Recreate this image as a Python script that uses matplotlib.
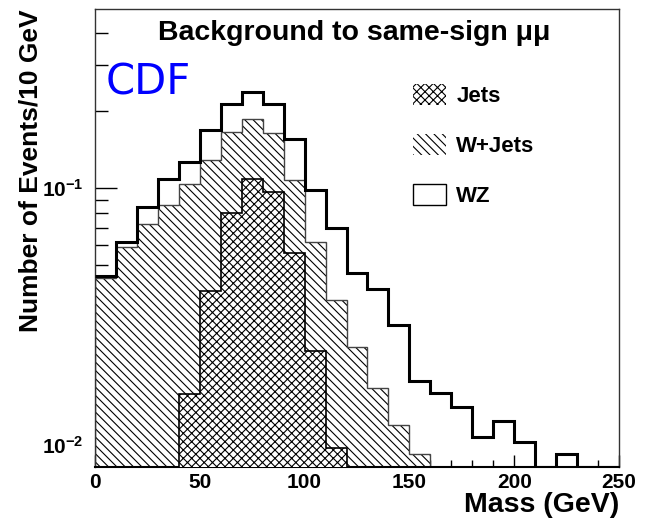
import numpy as np
import matplotlib.pyplot as plt
from matplotlib.patches import Patch
from matplotlib.ticker import FixedLocator, FuncFormatter, LogLocator, NullFormatter

plt.rcParams['font.family'] = ['Liberation Sans', 'DejaVu Sans']
plt.rcParams['mathtext.fontset'] = 'custom'
plt.rcParams['mathtext.rm'] = 'Liberation Sans:bold'
plt.rcParams['mathtext.bf'] = 'Liberation Sans:bold'
plt.rcParams['hatch.linewidth'] = 0.8

# 10 GeV bins from 0 to 250 GeV
edges = np.arange(0, 260, 10)

# events per bin for each background process
jets = [0, 0, 0, 0, 0.0158, 0.0397, 0.0799, 0.1084, 0.0965, 0.0558, 0.0232, 0.00973,
        0, 0, 0, 0, 0, 0, 0, 0, 0, 0, 0, 0, 0]
wjets = [0.0447, 0.0589, 0.0724, 0.0859, 0.0878, 0.0889, 0.0851, 0.0772, 0.0672, 0.0516,
         0.0384, 0.0270, 0.0241, 0.0167, 0.0120, 0.0092, 0, 0, 0, 0, 0, 0, 0, 0, 0]
wz = [0.0008, 0.0027, 0.0119, 0.0225, 0.0224, 0.0394, 0.0470, 0.0504, 0.0483, 0.0476,
      0.0366, 0.0332, 0.0226, 0.0238, 0.0173, 0.0085, 0.0159, 0.0141, 0.0107, 0.0124,
      0.0103, 0, 0.0092, 0, 0]

ymin, ymax = 0.00821, 0.497

# stacked sums
s_jets = np.array(jets)
s_wjets = s_jets + np.array(wjets)
s_total = s_wjets + np.array(wz)

fig = plt.figure(figsize=(6.5, 5.2), dpi=100)
ax = fig.add_axes([95 / 650, 1 - 467 / 520, 524 / 650, 458 / 520])
ax.set_yscale('log')

base = ymin * 0.5
# WZ on top (open), W+Jets hatched, Jets cross-hatched
ax.stairs(np.maximum(s_total, ymin), edges, baseline=base, fill=True,
          facecolor='white', edgecolor='none', zorder=1)
ax.stairs(np.maximum(s_total, ymin), edges, baseline=None, fill=False,
          color='black', linewidth=2.2, zorder=4)
ax.stairs(np.maximum(s_wjets, base), edges, baseline=base, fill=True,
          facecolor='white', edgecolor='black', hatch='\\\\\\\\', linewidth=0, zorder=2)
ax.stairs(np.maximum(s_wjets, base), edges, baseline=base, fill=False,
          color='#444444', linewidth=1.0, zorder=2.1)
ax.stairs(np.maximum(s_jets, base), edges, baseline=base, fill=True,
          facecolor='white', edgecolor='black', hatch='xxxx', linewidth=0, zorder=3)
ax.stairs(np.maximum(s_jets, base), edges, baseline=base, fill=False,
          color='black', linewidth=1.2, zorder=3.1)

ax.set_xlim(0, 250)
ax.set_ylim(ymin, ymax)

# axes: ticks inside, left and bottom only
ax.xaxis.set_major_locator(FixedLocator([0, 50, 100, 150, 200, 250]))
ax.xaxis.set_minor_locator(FixedLocator(edges))
ax.yaxis.set_major_locator(LogLocator(base=10))
ax.yaxis.set_minor_locator(LogLocator(base=10, subs=np.arange(2, 10)))
ax.yaxis.set_minor_formatter(NullFormatter())
ax.yaxis.set_major_formatter(FuncFormatter(
    lambda v, p: r'$\mathbf{10^{%d}}$' % int(round(np.log10(v)))))
ax.tick_params(axis='x', which='major', direction='in', length=9, width=1,
               labelsize=15, pad=4, top=False)
ax.tick_params(axis='x', which='minor', direction='in', length=5, width=1, top=False)
ax.tick_params(axis='y', which='major', direction='in', length=16, width=1,
               labelsize=15, pad=8, right=False)
ax.tick_params(axis='y', which='minor', direction='in', length=9, width=1, right=False)
for lbl in ax.get_xticklabels():
    lbl.set_fontweight('bold')
for side in ['top', 'right', 'left']:
    ax.spines[side].set_linewidth(1.0)
    ax.spines[side].set_color('#333333')
ax.spines['bottom'].set_linewidth(1.5)

ax.set_xlabel('Mass (GeV)', fontsize=20.5, fontweight='bold', loc='right', labelpad=0)
ax.set_ylabel('Number of Events/10 GeV', fontsize=19, fontweight='bold', loc='top',
              labelpad=0)

ax.text(0.495, 0.948, 'Background to same-sign μμ', transform=ax.transAxes,
        ha='center', va='center', fontsize=20.5, fontweight='bold', zorder=6)
ax.text(0.02, 0.84, 'CDF', transform=ax.transAxes, ha='left', va='center',
        fontsize=30, color='#0000ff', family='DejaVu Sans', zorder=6)

handles = [Patch(facecolor='white', edgecolor='black', hatch='xxxx', linewidth=0),
           Patch(facecolor='white', edgecolor='black', hatch='\\\\\\\\', linewidth=0),
           Patch(facecolor='white', edgecolor='black', linewidth=1)]
ax.legend(handles, ['Jets', 'W+Jets', 'WZ'], loc='upper left',
          bbox_to_anchor=(0.607, 0.836), frameon=False, borderpad=0, borderaxespad=0,
          prop={'weight': 'bold', 'size': 16}, handlelength=1.5, handleheight=1.1,
          labelspacing=1.2, handletextpad=0.45)

fig.savefig('out.png', dpi=100)
